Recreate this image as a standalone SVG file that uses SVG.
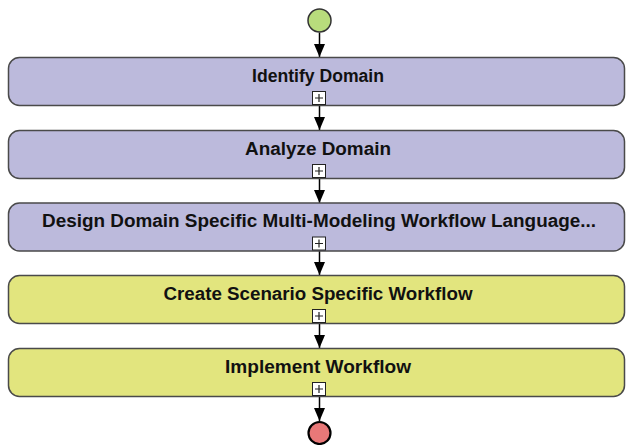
<svg xmlns="http://www.w3.org/2000/svg" width="626" height="445" viewBox="0 0 626 445">
  <defs>
    <!-- filled arrowhead, tip at the end of the line -->
    <marker id="arrowDown" viewBox="0 0 13 11" refX="13" refY="5.5" markerWidth="13" markerHeight="11" markerUnits="userSpaceOnUse" orient="auto">
      <path d="M0,0 L13,5.5 L0,11 Z" fill="#000"/>
    </marker>
  </defs>
  <style>
    .step { stroke: #4a4a4a; stroke-width: 1.5; }
    .domain { fill: #bcbadc; }
    .workflow { fill: #e2e57e; }
    .label { font-family: "Liberation Sans", Arial, Helvetica, sans-serif; font-weight: bold; font-size: 17.5px; fill: #111; text-anchor: middle; }
    .expand { fill: #fff; stroke: #222; stroke-width: 1; }
    .expand-sign { stroke: #222; stroke-width: 1.2; }
    .flow { stroke: #000; stroke-width: 1.5; fill: none; marker-end: url(#arrowDown); }
  </style>

  <!-- flow connectors -->
  <g id="connectors">
    <line class="flow" x1="319.5" y1="32.5" x2="319.5" y2="57"/>
    <line class="flow" x1="319.5" y1="105" x2="319.5" y2="130"/>
    <line class="flow" x1="319.5" y1="178" x2="319.5" y2="203"/>
    <line class="flow" x1="319.5" y1="251" x2="319.5" y2="275"/>
    <line class="flow" x1="319.5" y1="323" x2="319.5" y2="348"/>
    <line class="flow" x1="319.5" y1="396" x2="319.5" y2="421"/>
  </g>

  <!-- initial node -->
  <g id="start">
    <circle cx="319.5" cy="20.5" r="11.5" fill="#b8dc7c" stroke="#333" stroke-width="1.5"/>
  </g>

  <g id="identify-domain">
    <rect class="step domain" x="8.5" y="57.5" width="616" height="48" rx="11"/>
    <text class="label" x="318" y="81.5" textLength="132" lengthAdjust="spacingAndGlyphs">Identify Domain</text>
    <rect class="expand" x="312.5" y="91.5" width="13" height="13"/>
    <path class="expand-sign" d="M315,98 H323 M319,94 V102"/>
  </g>

  <g id="analyze-domain">
    <rect class="step domain" x="8.5" y="130.5" width="616" height="48" rx="11"/>
    <text class="label" x="318" y="154.5" textLength="146" lengthAdjust="spacingAndGlyphs">Analyze Domain</text>
    <rect class="expand" x="312.5" y="164.5" width="13" height="13"/>
    <path class="expand-sign" d="M315,171 H323 M319,167 V175"/>
  </g>

  <g id="design-language">
    <rect class="step domain" x="8.5" y="203" width="616" height="48" rx="11"/>
    <text class="label" x="319" y="227" textLength="554" lengthAdjust="spacingAndGlyphs">Design Domain Specific Multi-Modeling Workflow Language...</text>
    <rect class="expand" x="312.5" y="237" width="13" height="13"/>
    <path class="expand-sign" d="M315,243.5 H323 M319,239.5 V247.5"/>
  </g>

  <g id="create-workflow">
    <rect class="step workflow" x="8.5" y="275.5" width="616" height="48" rx="11"/>
    <text class="label" x="318" y="300" textLength="309" lengthAdjust="spacingAndGlyphs">Create Scenario Specific Workflow</text>
    <rect class="expand" x="312.5" y="309.5" width="13" height="13"/>
    <path class="expand-sign" d="M315,316 H323 M319,312 V320"/>
  </g>

  <g id="implement-workflow">
    <rect class="step workflow" x="8.5" y="348.5" width="616" height="48" rx="11"/>
    <text class="label" x="318" y="373" textLength="186" lengthAdjust="spacingAndGlyphs">Implement Workflow</text>
    <rect class="expand" x="312.5" y="382.5" width="13" height="13"/>
    <path class="expand-sign" d="M315,389 H323 M319,385 V393"/>
  </g>

  <!-- final node -->
  <g id="end">
    <circle cx="319.5" cy="433" r="11" fill="#e87878" stroke="#000" stroke-width="2.2"/>
  </g>
</svg>
